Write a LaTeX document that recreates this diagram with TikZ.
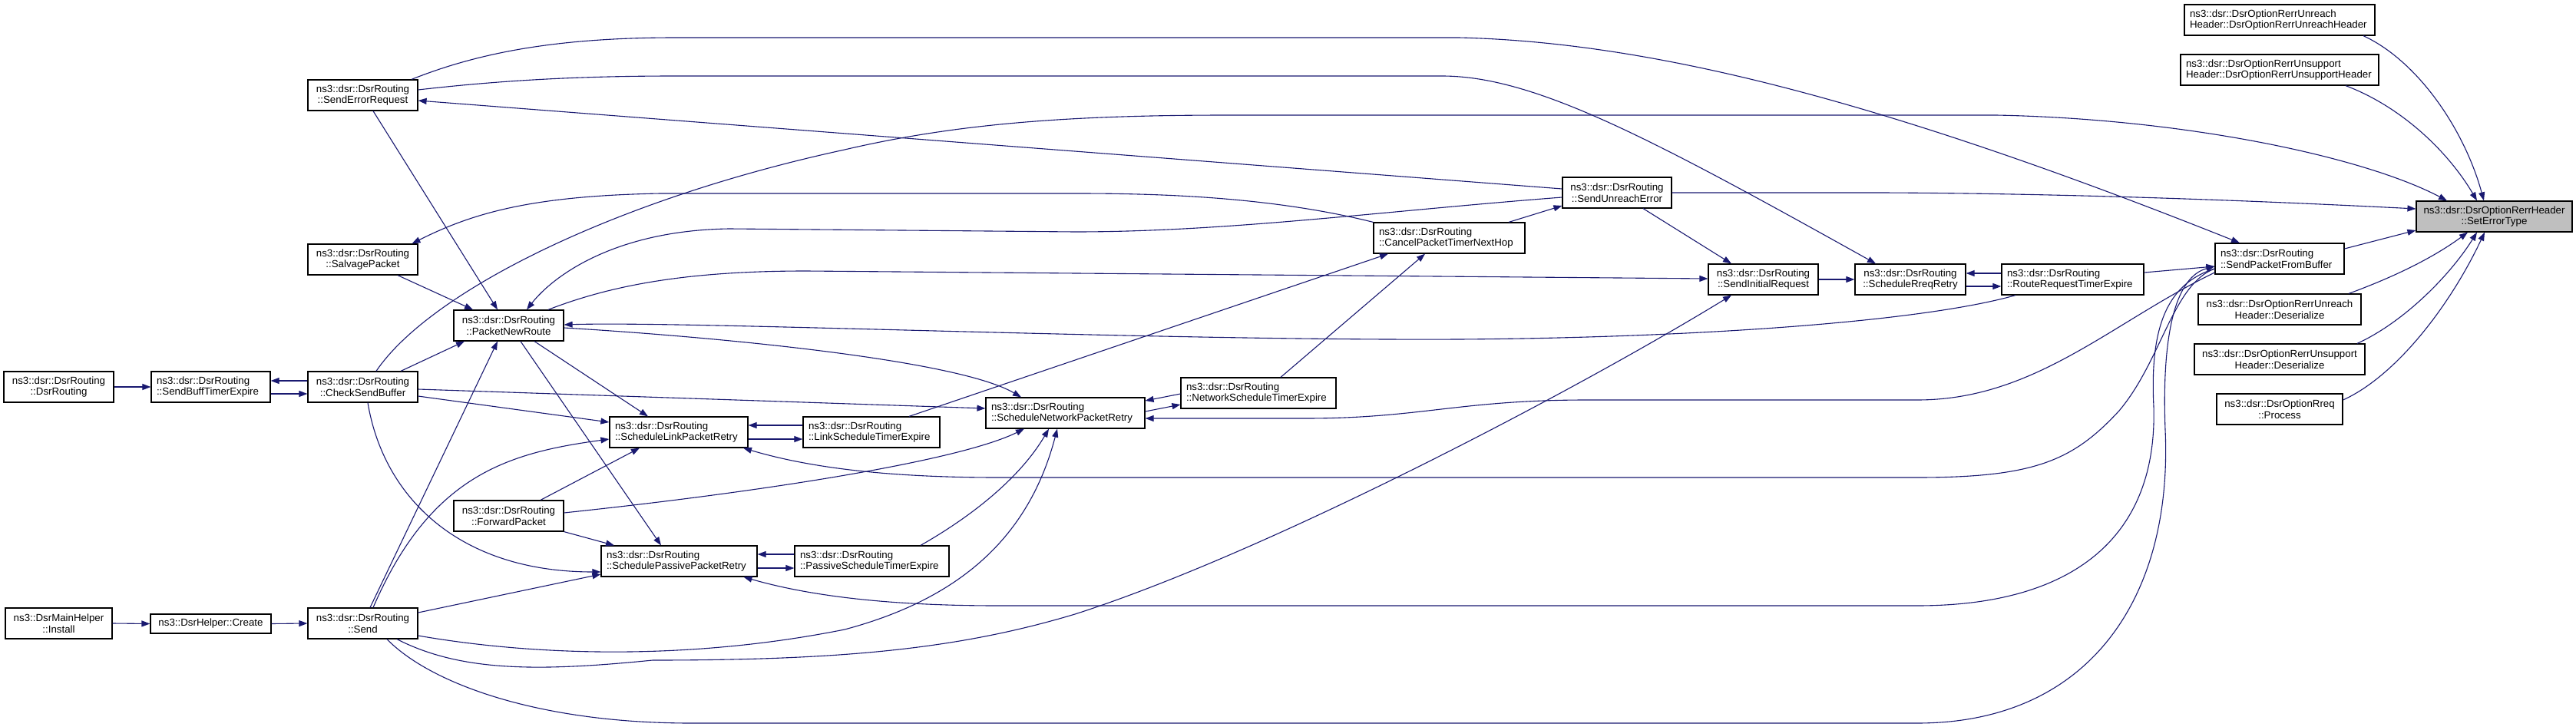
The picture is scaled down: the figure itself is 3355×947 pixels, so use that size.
\documentclass[tikz,border=0pt]{standalone}
\usepackage{fontspec}
\setmainfont{Liberation Sans}
\usetikzlibrary{arrows.meta}
\definecolor{edgeblue}{RGB}{25,25,112}
\definecolor{rootgrey}{RGB}{191,191,191}
\begin{document}
\begin{tikzpicture}[x = 1pt, y = -1pt,
    fn/.style = {draw = black, line width = 1.2pt, fill = white, minimum height = 40pt, inner xsep = 7pt, inner ysep = 0pt, font = \fontsize{13.3}{14.5}\selectfont},
    fnc/.style = {fn, align = center},
    fnl/.style = {fn, align = left},
    call/.style = {edgeblue, line width = 1.1pt, -{Triangle[length = 11pt, width = 8pt]}}]
  \useasboundingbox (0, 0) rectangle (3355, 947);
  \node [fnc, minimum width = 143pt] (dsrrouting) at (76.5, 504) {ns3::dsr::DsrRouting\\::DsrRouting};
  \node [fnc, minimum width = 139pt] (install) at (76.5, 812) {ns3::DsrMainHelper\\::Install};
  \node [fnl, text width = 141pt] (sendbuff) at (274.5, 504) {ns3::dsr::DsrRouting\\::SendBuffTimerExpire};
  \node [fnc, minimum width = 157pt, minimum height = 25pt] (create) at (274.5, 812.5) {ns3::DsrHelper::Create};
  \node [fnc, minimum width = 143pt] (senderr) at (472.5, 124) {ns3::dsr::DsrRouting\\::SendErrorRequest};
  \node [fnc, minimum width = 143pt] (salvage) at (472.5, 338) {ns3::dsr::DsrRouting\\::SalvagePacket};
  \node [fnc, minimum width = 143pt] (checkbuf) at (472.5, 504) {ns3::dsr::DsrRouting\\::CheckSendBuffer};
  \node [fnc, minimum width = 143pt] (send) at (472.5, 812) {ns3::dsr::DsrRouting\\::Send};
  \node [fnc, minimum width = 143pt] (newroute) at (662.5, 424) {ns3::dsr::DsrRouting\\::PacketNewRoute};
  \node [fnc, minimum width = 143pt] (forward) at (662.5, 672) {ns3::dsr::DsrRouting\\::ForwardPacket};
  \node [fnl, text width = 166pt] (linkretry) at (884, 563) {ns3::dsr::DsrRouting\\::ScheduleLinkPacketRetry};
  \node [fnl, text width = 189pt] (passiveretry) at (884.5, 731) {ns3::dsr::DsrRouting\\::SchedulePassivePacketRetry};
  \node [fnl, text width = 164pt] (linktimer) at (1135, 563) {ns3::dsr::DsrRouting\\::LinkScheduleTimerExpire};
  \node [fnl, text width = 187pt] (passivetimer) at (1135.5, 731) {ns3::dsr::DsrRouting\\::PassiveScheduleTimerExpire};
  \node [fnl, text width = 193pt] (netretry) at (1387.5, 538) {ns3::dsr::DsrRouting\\::ScheduleNetworkPacketRetry};
  \node [fnl, text width = 188pt] (nettimer) at (1639, 512) {ns3::dsr::DsrRouting\\::NetworkScheduleTimerExpire};
  \node [fnl, text width = 183pt] (cancel) at (1887.5, 310) {ns3::dsr::DsrRouting\\::CancelPacketTimerNextHop};
  \node [fnc, minimum width = 142pt] (unreacherr) at (2106, 251) {ns3::dsr::DsrRouting\\::SendUnreachError};
  \node [fnc, minimum width = 143pt] (initreq) at (2296.5, 364) {ns3::dsr::DsrRouting\\::SendInitialRequest};
  \node [fnc, minimum width = 144pt] (rreqretry) at (2488, 364) {ns3::dsr::DsrRouting\\::ScheduleRreqRetry};
  \node [fnl, text width = 171pt] (rreqtimer) at (2699.5, 364) {ns3::dsr::DsrRouting\\::RouteRequestTimerExpire};
  \node [fnl, text width = 154pt] (fromdbuf) at (2969, 337) {ns3::dsr::DsrRouting\\::SendPacketFromBuffer};
  \node [fnl, text width = 234pt] (unreachhdr) at (2969, 26) {ns3::dsr::DsrOptionRerrUnreach\\Header::DsrOptionRerrUnreachHeader};
  \node [fnl, text width = 244pt] (unsupphdr) at (2969, 91) {ns3::dsr::DsrOptionRerrUnsupport\\Header::DsrOptionRerrUnsupportHeader};
  \node [fnc, minimum width = 212pt] (unreachdes) at (2969, 403) {ns3::dsr::DsrOptionRerrUnreach\\Header::Deserialize};
  \node [fnc, minimum width = 222pt] (unsuppdes) at (2969, 468) {ns3::dsr::DsrOptionRerrUnsupport\\Header::Deserialize};
  \node [fnc, minimum width = 164pt] (rreqproc) at (2969, 533) {ns3::dsr::DsrOptionRreq\\::Process};
  \node [fnc, minimum width = 203pt, fill = rootgrey] (seterr) at (3248.5, 282) {ns3::dsr::DsrOptionRerrHeader\\::SetErrorType};

  \draw [call] (dsrrouting.east) -- (sendbuff.west);
  \draw [call] ([yshift = 8pt]checkbuf.west) -- ([yshift = 8pt]sendbuff.east);
  \draw [call] ([yshift = -9pt]sendbuff.east) -- ([yshift = -9pt]checkbuf.west);
  \draw [call] (install.east) -- (create.west);
  \draw [call] (create.east) -- (send.west);
  \draw [call] ([xshift = 13.5pt]senderr.south) -- ([xshift = -14.5pt]newroute.north);
  \draw [call] ([xshift = 45.5pt]salvage.south) -- ([xshift = -46.5pt]newroute.north);
  \draw [call] ([xshift = 49.5pt]checkbuf.north) -- ([xshift = -57.5pt]newroute.south);
  \draw [call] ([xshift = 9.5pt]send.north) -- ([xshift = -14.5pt]newroute.south);
  \draw [call] ([xshift = 13.5pt]send.north) .. controls (560, 620) and (660, 590) .. ([yshift = -9pt]linkretry.west);
  \draw [call] ([yshift = -12pt]checkbuf.east) -- ([yshift = 13pt]linkretry.west);
  \draw [call] ([xshift = 41.5pt]forward.north) -- ([xshift = -51pt]linkretry.south);
  \draw [call] ([xshift = 33.5pt]newroute.south) -- ([xshift = -40pt]linkretry.north);
  \draw [call] ([xshift = 15.5pt]newroute.south) -- ([xshift = -23.5pt]passiveretry.north);
  \draw [call] (forward.south east) -- ([xshift = -84.5pt]passiveretry.north);
  \draw [call] ([xshift = 6.5pt]checkbuf.south) .. controls (500, 650) and (600, 745) .. ([yshift = -14pt]passiveretry.west);
  \draw [call] ([yshift = 14pt]send.east) -- ([yshift = -17pt]passiveretry.west);
  \draw [call] ([yshift = -3pt]checkbuf.east) -- ([yshift = 6pt]netretry.west);
  \draw [call] ([yshift = -3pt]newroute.east) .. controls (950, 440) and (1250, 470) .. ([xshift = -57.5pt]netretry.north);
  \draw [call] ([yshift = 4pt]forward.east) .. controls (1000, 640) and (1250, 600) .. ([xshift = -53.5pt]netretry.south);
  \draw [call] ([xshift = 63.5pt]passivetimer.north) .. controls (1270, 670) and (1330, 620) .. ([xshift = -21.5pt]netretry.south);
  \draw [call] ([yshift = -16pt]send.east) .. controls (700, 855) and (900, 860) .. (1100, 820) .. controls (1250, 780) and (1340, 700) .. ([xshift = -10.5pt]netretry.south);
  \draw [call] ([yshift = 2pt]netretry.east) -- ([yshift = -15pt]nettimer.west);
  \draw [call] ([yshift = -1pt]nettimer.west) -- ([yshift = 16pt]netretry.east);
  \draw [call] ([yshift = -18pt]fromdbuf.west) .. controls (2750, 420) and (2650, 521) .. (2497, 521) -- (2067, 521) .. controls (1900, 521) and (1850, 545) .. (1700, 545) -- ([yshift = -7pt]netretry.east);
  \draw [call] ([yshift = -13pt]fromdbuf.west) .. controls (2830, 370) and (2815, 470) .. (2760, 535) .. controls (2700, 600) and (2650, 622) .. (2497, 622) -- (1300, 622) .. controls (1150, 622) and (1050, 608) .. ([xshift = 84pt]linkretry.south);
  \draw [call] ([yshift = -13pt]fromdbuf.west) .. controls (2820, 370) and (2800, 430) .. (2805, 530) .. controls (2810, 700) and (2700, 789) .. (2497, 789) -- (1300, 789) .. controls (1150, 789) and (1050, 775) .. ([xshift = 84pt]passiveretry.south);
  \draw [call] ([xshift = 31.5pt]send.south) .. controls (560, 890) and (700, 942) .. (900, 942) -- (2497, 942) .. controls (2720, 942) and (2830, 780) .. (2820, 560) .. controls (2815, 430) and (2835, 360) .. ([yshift = -10pt]fromdbuf.west);
  \draw [call] ([xshift = 44.5pt]send.south) .. controls (600, 875) and (700, 875) .. (850, 860) .. controls (1100, 860) and (1250, 845) .. (1400, 800) .. controls (1650, 720) and (2050, 510) .. ([xshift = -41.5pt]initreq.south);
  \draw [call] ([yshift = 9pt]passivetimer.west) -- ([yshift = 9pt]passiveretry.east);
  \draw [call] ([yshift = -9pt]passiveretry.east) -- ([yshift = -9pt]passivetimer.west);
  \draw [call] ([yshift = 9pt]linktimer.west) -- ([yshift = 9pt]linkretry.east);
  \draw [call] ([yshift = -9pt]linkretry.east) -- ([yshift = -9pt]linktimer.west);
  \draw [call] ([xshift = 49pt]linktimer.north) -- ([xshift = -79.5pt]cancel.south);
  \draw [call] ([xshift = 29pt]nettimer.north) -- ([xshift = -31.5pt]cancel.south);
  \draw [call] ([xshift = 77.5pt]cancel.north) -- ([yshift = -17pt]unreacherr.west);
  \draw [call] (cancel.north west) .. controls (1650, 255) and (1500, 252) .. (1400, 252) -- (860, 252) .. controls (700, 255) and (620, 275) .. ([xshift = 64pt]salvage.north);
  \draw [call] ([yshift = 5pt]unreacherr.west) -- ([yshift = -7pt]senderr.east);
  \draw [call] ([yshift = -6pt]unreacherr.west) .. controls (1800, 275) and (1600, 302) .. (1400, 302) -- (950, 298) .. controls (800, 300) and (720, 360) .. ([xshift = 23.5pt]newroute.north);
  \draw [call] ([xshift = 34pt]unreacherr.south) -- ([xshift = -41.5pt]initreq.north);
  \draw [call] (unreacherr.east) -- (2450, 251) .. controls (2700, 252) and (2950, 262) .. ([yshift = 10pt]seterr.west);
  \draw [call] (initreq.east) -- (rreqretry.west);
  \draw [call] ([yshift = -9pt]rreqretry.east) -- ([yshift = -9pt]rreqtimer.west);
  \draw [call] ([yshift = 8pt]rreqtimer.west) -- ([yshift = 8pt]rreqretry.east);
  \draw [call] ([xshift = -74.5pt]rreqtimer.south) .. controls (2500, 420) and (2200, 440) .. (1900, 442) .. controls (1500, 444) and (900, 418) .. ([yshift = 1pt]newroute.east);
  \draw [call] ([yshift = 9pt]rreqtimer.east) -- ([yshift = -10pt]fromdbuf.west);
  \draw [call] ([xshift = 51.5pt]newroute.north) .. controls (800, 370) and (900, 353) .. (1050, 353) -- ([yshift = 1pt]initreq.west);
  \draw [call] ([yshift = 7pt]senderr.east) .. controls (650, 105) and (750, 99) .. (880, 99) -- (1880, 99) .. controls (2000, 100) and (2150, 180) .. ([xshift = -45pt]rreqretry.north);
  \draw [call] ([xshift = 63.5pt]senderr.north) .. controls (620, 70) and (720, 49) .. (880, 49) -- (1900, 49) .. controls (2150, 55) and (2450, 130) .. ([xshift = -52pt]fromdbuf.north);
  \draw [call] ([xshift = 17.5pt]checkbuf.north) .. controls (560, 380) and (800, 260) .. (1100, 195) .. controls (1250, 160) and (1400, 150) .. (1600, 150) -- (2600, 150) .. controls (2850, 155) and (3080, 205) .. ([xshift = -61.5pt]seterr.north);
  \draw [call] ([yshift = 13pt]fromdbuf.east) -- ([yshift = -18pt]seterr.west);
  \draw [call] ([xshift = 109pt]unreachhdr.south) .. controls (3150, 80) and (3210, 170) .. ([xshift = -13.5pt]seterr.north);
  \draw [call] ([xshift = 86pt]unsupphdr.south) .. controls (3130, 140) and (3190, 200) .. ([xshift = -22.5pt]seterr.north);
  \draw [call] ([xshift = 90pt]unreachdes.north) .. controls (3120, 360) and (3170, 335) .. ([xshift = -34.5pt]seterr.south);
  \draw [call] ([xshift = 101pt]unsuppdes.north) .. controls (3130, 420) and (3190, 360) .. ([xshift = -22.5pt]seterr.south);
  \draw [call] ([yshift = 12pt]rreqproc.east) .. controls (3120, 490) and (3190, 400) .. ([xshift = -12.5pt]seterr.south);
\end{tikzpicture}
\end{document}
